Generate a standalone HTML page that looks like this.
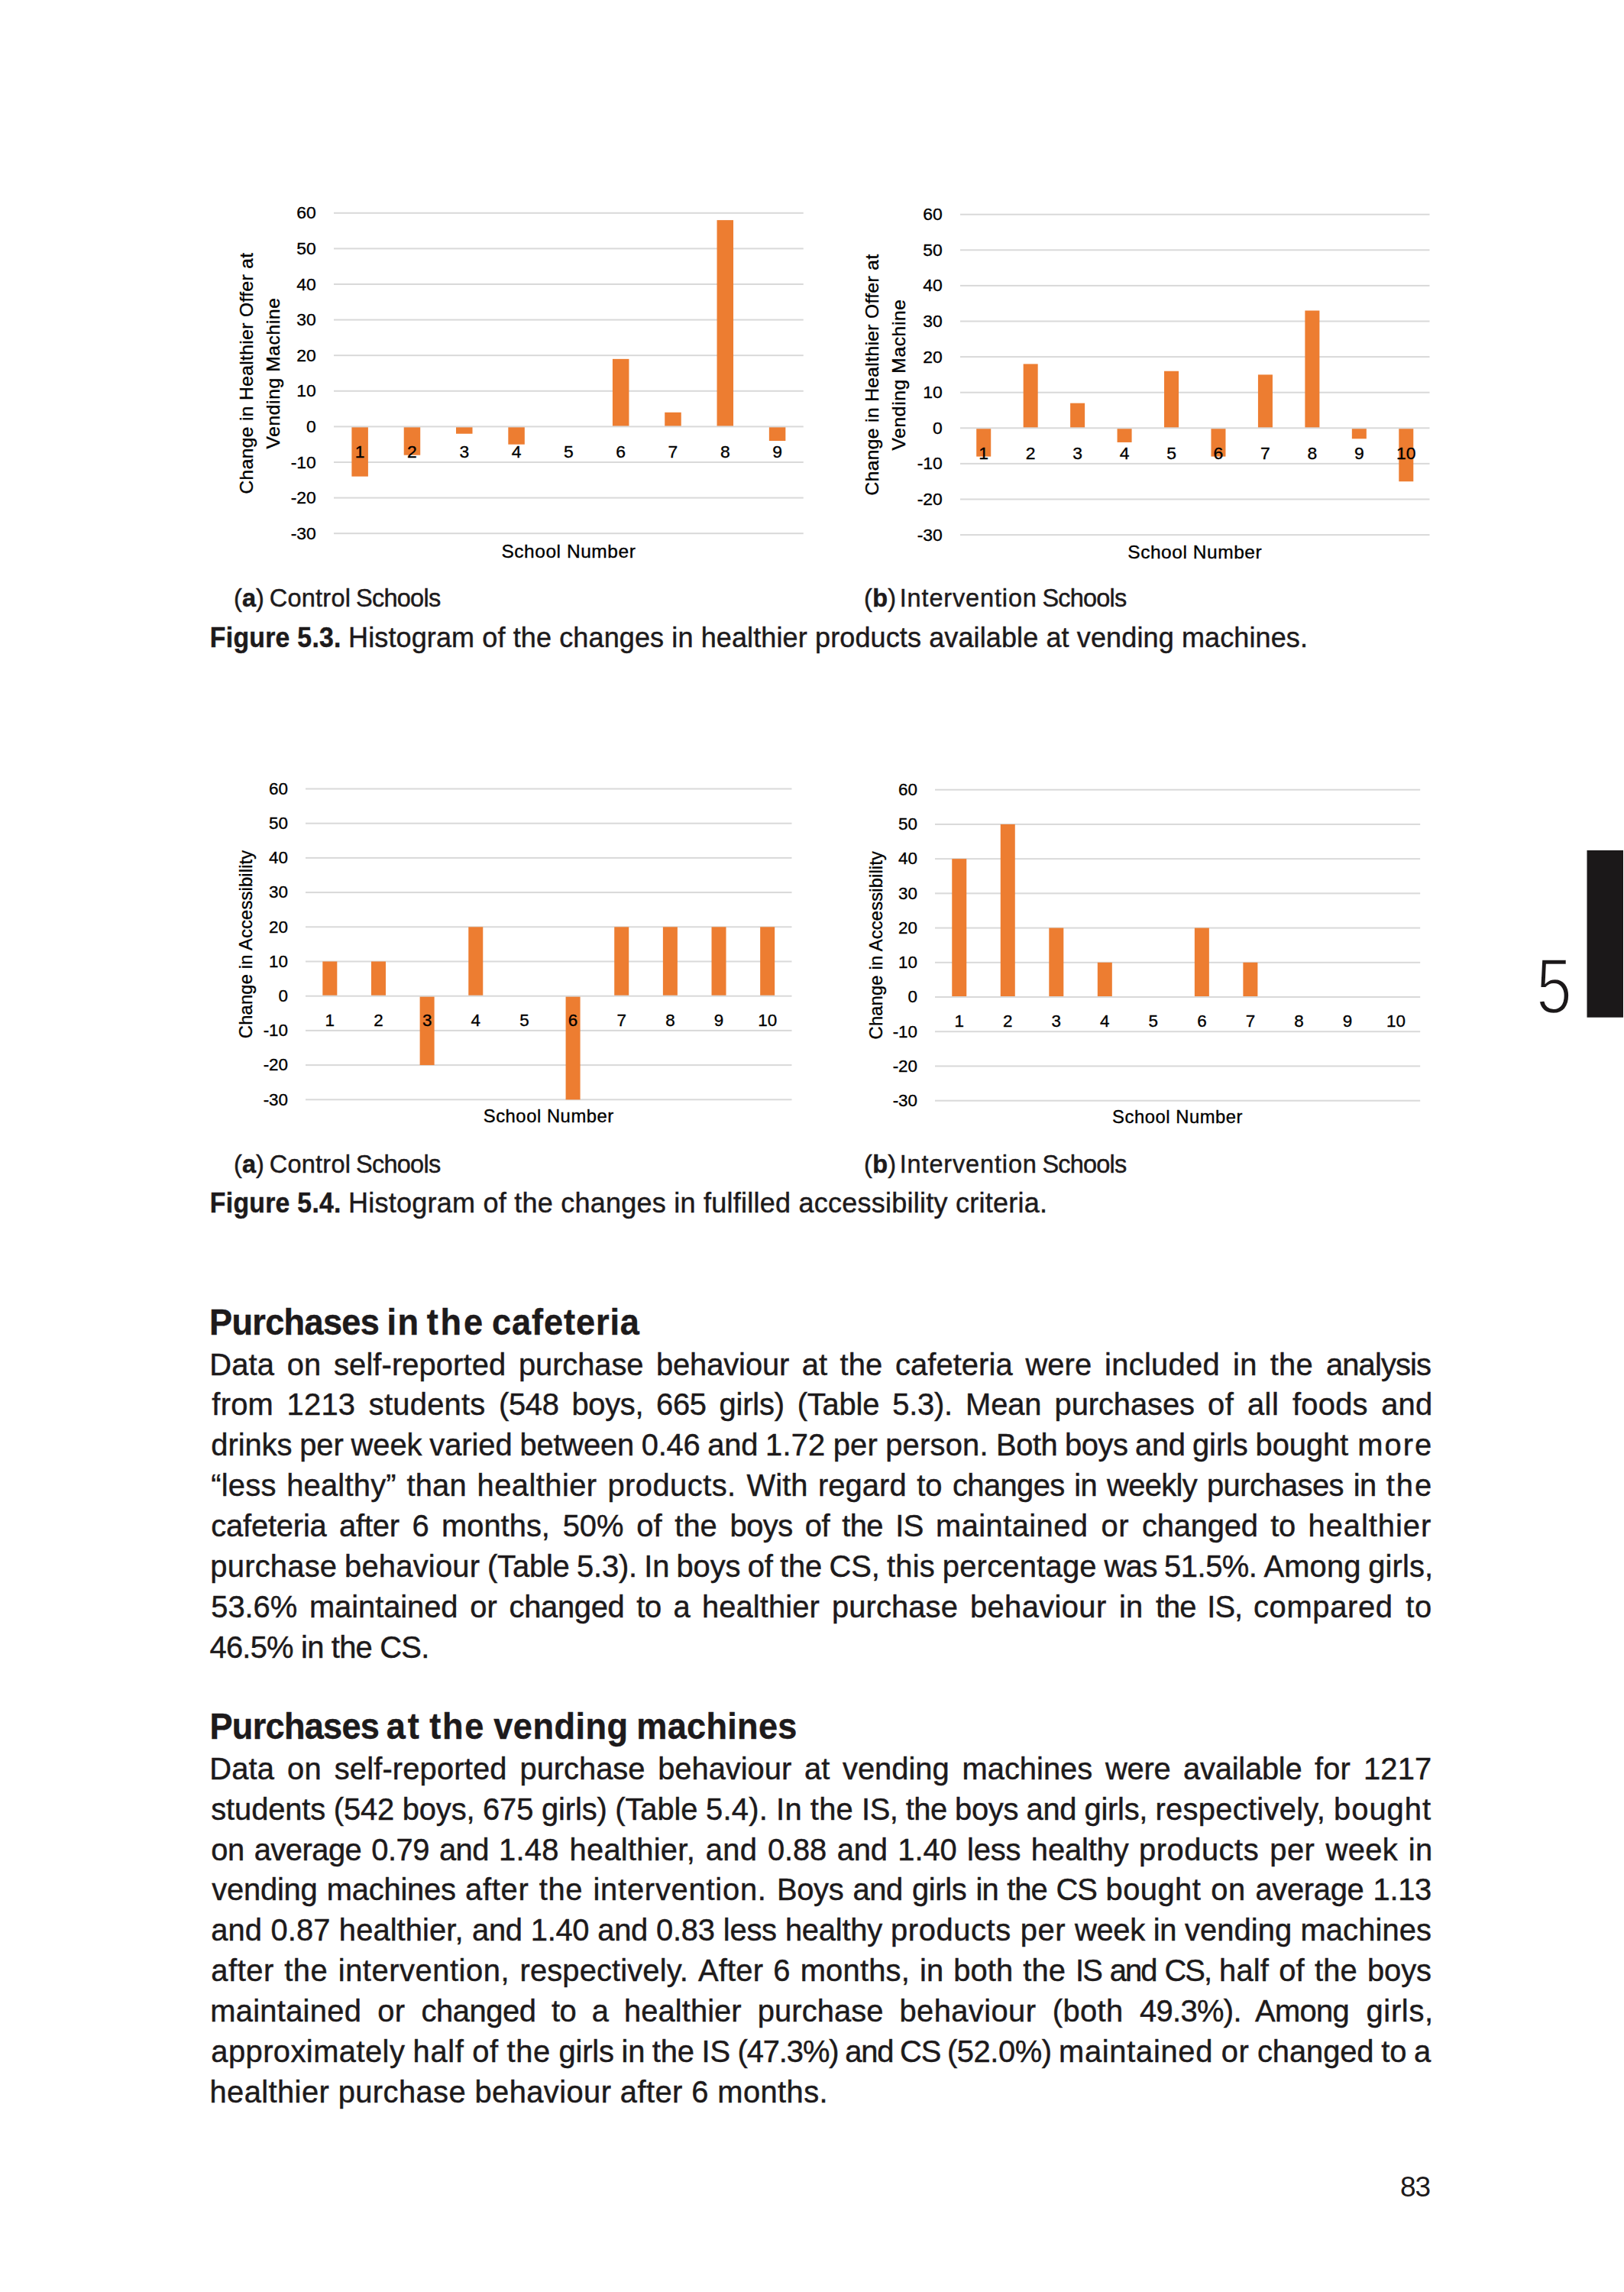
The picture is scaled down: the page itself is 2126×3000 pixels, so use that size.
<!DOCTYPE html>
<html lang="en"><head><meta charset="utf-8"><title>Page 83</title>
<style>
html,body{margin:0;padding:0;background:#fff}
body{width:2126px;height:3000px;overflow:hidden}
svg{display:block;font-family:'Liberation Sans', sans-serif;fill:#1d1a1b;stroke:#1d1a1b;stroke-width:0.45px}
</style></head><body>
<svg width="2126" height="3000" viewBox="0 0 2126 3000">
<!-- Figure 5.3 -->
<g fill="#000" stroke="#000" stroke-width="0.35"><rect x="437.00" y="277.80" width="614.75" height="2" fill="#d9d9d9" stroke="none"/>
<rect x="437.00" y="324.40" width="614.75" height="2" fill="#d9d9d9" stroke="none"/>
<rect x="437.00" y="371.00" width="614.75" height="2" fill="#d9d9d9" stroke="none"/>
<rect x="437.00" y="417.60" width="614.75" height="2" fill="#d9d9d9" stroke="none"/>
<rect x="437.00" y="464.20" width="614.75" height="2" fill="#d9d9d9" stroke="none"/>
<rect x="437.00" y="510.80" width="614.75" height="2" fill="#d9d9d9" stroke="none"/>
<rect x="437.00" y="604.00" width="614.75" height="2" fill="#d9d9d9" stroke="none"/>
<rect x="437.00" y="650.60" width="614.75" height="2" fill="#d9d9d9" stroke="none"/>
<rect x="437.00" y="697.20" width="614.75" height="2" fill="#d9d9d9" stroke="none"/>
<rect x="460.40" y="558.40" width="21.50" height="65.24" fill="#ed7d31" stroke="none"/>
<rect x="528.71" y="558.40" width="21.50" height="37.28" fill="#ed7d31" stroke="none"/>
<rect x="597.01" y="558.40" width="21.50" height="9.32" fill="#ed7d31" stroke="none"/>
<rect x="665.32" y="558.40" width="21.50" height="23.30" fill="#ed7d31" stroke="none"/>
<rect x="801.93" y="469.86" width="21.50" height="88.54" fill="#ed7d31" stroke="none"/>
<rect x="870.24" y="539.76" width="21.50" height="18.64" fill="#ed7d31" stroke="none"/>
<rect x="938.54" y="288.12" width="21.50" height="270.28" fill="#ed7d31" stroke="none"/>
<rect x="1006.85" y="558.40" width="21.50" height="18.64" fill="#ed7d31" stroke="none"/>
<rect x="437.00" y="557.40" width="614.75" height="2" fill="#d9d9d9" stroke="none"/>
<text x="413.8" y="286.30" font-size="22.9" text-anchor="end">60</text>
<text x="413.8" y="332.90" font-size="22.9" text-anchor="end">50</text>
<text x="413.8" y="379.50" font-size="22.9" text-anchor="end">40</text>
<text x="413.8" y="426.10" font-size="22.9" text-anchor="end">30</text>
<text x="413.8" y="472.70" font-size="22.9" text-anchor="end">20</text>
<text x="413.8" y="519.30" font-size="22.9" text-anchor="end">10</text>
<text x="413.8" y="565.90" font-size="22.9" text-anchor="end">0</text>
<text x="413.8" y="612.50" font-size="22.9" text-anchor="end">-10</text>
<text x="413.8" y="659.10" font-size="22.9" text-anchor="end">-20</text>
<text x="413.8" y="705.70" font-size="22.9" text-anchor="end">-30</text>
<text x="471.15" y="598.80" font-size="22.9" text-anchor="middle">1</text>
<text x="539.46" y="598.80" font-size="22.9" text-anchor="middle">2</text>
<text x="607.76" y="598.80" font-size="22.9" text-anchor="middle">3</text>
<text x="676.07" y="598.80" font-size="22.9" text-anchor="middle">4</text>
<text x="744.38" y="598.80" font-size="22.9" text-anchor="middle">5</text>
<text x="812.68" y="598.80" font-size="22.9" text-anchor="middle">6</text>
<text x="880.99" y="598.80" font-size="22.9" text-anchor="middle">7</text>
<text x="949.29" y="598.80" font-size="22.9" text-anchor="middle">8</text>
<text x="1017.60" y="598.80" font-size="22.9" text-anchor="middle">9</text>
<text x="744.38" y="730.00" font-size="24.5" text-anchor="middle" letter-spacing="0.549">School Number</text>
<text transform="translate(330.80,488.50) rotate(-90)" font-size="24.5" text-anchor="middle" letter-spacing="0.406">Change in Healthier Offer at</text>
<text transform="translate(365.70,488.50) rotate(-90)" font-size="24.5" text-anchor="middle" letter-spacing="0.668">Vending Machine</text></g>
<g fill="#000" stroke="#000" stroke-width="0.35"><rect x="1257.00" y="279.70" width="614.50" height="2" fill="#d9d9d9" stroke="none"/>
<rect x="1257.00" y="326.30" width="614.50" height="2" fill="#d9d9d9" stroke="none"/>
<rect x="1257.00" y="372.90" width="614.50" height="2" fill="#d9d9d9" stroke="none"/>
<rect x="1257.00" y="419.50" width="614.50" height="2" fill="#d9d9d9" stroke="none"/>
<rect x="1257.00" y="466.10" width="614.50" height="2" fill="#d9d9d9" stroke="none"/>
<rect x="1257.00" y="512.70" width="614.50" height="2" fill="#d9d9d9" stroke="none"/>
<rect x="1257.00" y="605.90" width="614.50" height="2" fill="#d9d9d9" stroke="none"/>
<rect x="1257.00" y="652.50" width="614.50" height="2" fill="#d9d9d9" stroke="none"/>
<rect x="1257.00" y="699.10" width="614.50" height="2" fill="#d9d9d9" stroke="none"/>
<rect x="1278.22" y="560.30" width="19.00" height="37.28" fill="#ed7d31" stroke="none"/>
<rect x="1339.67" y="476.42" width="19.00" height="83.88" fill="#ed7d31" stroke="none"/>
<rect x="1401.12" y="527.68" width="19.00" height="32.62" fill="#ed7d31" stroke="none"/>
<rect x="1462.58" y="560.30" width="19.00" height="18.64" fill="#ed7d31" stroke="none"/>
<rect x="1524.03" y="485.74" width="19.00" height="74.56" fill="#ed7d31" stroke="none"/>
<rect x="1585.47" y="560.30" width="19.00" height="37.28" fill="#ed7d31" stroke="none"/>
<rect x="1646.92" y="490.40" width="19.00" height="69.90" fill="#ed7d31" stroke="none"/>
<rect x="1708.38" y="406.52" width="19.00" height="153.78" fill="#ed7d31" stroke="none"/>
<rect x="1769.83" y="560.30" width="19.00" height="13.98" fill="#ed7d31" stroke="none"/>
<rect x="1831.28" y="560.30" width="19.00" height="69.90" fill="#ed7d31" stroke="none"/>
<rect x="1257.00" y="559.30" width="614.50" height="2" fill="#d9d9d9" stroke="none"/>
<text x="1233.8" y="288.20" font-size="22.9" text-anchor="end">60</text>
<text x="1233.8" y="334.80" font-size="22.9" text-anchor="end">50</text>
<text x="1233.8" y="381.40" font-size="22.9" text-anchor="end">40</text>
<text x="1233.8" y="428.00" font-size="22.9" text-anchor="end">30</text>
<text x="1233.8" y="474.60" font-size="22.9" text-anchor="end">20</text>
<text x="1233.8" y="521.20" font-size="22.9" text-anchor="end">10</text>
<text x="1233.8" y="567.80" font-size="22.9" text-anchor="end">0</text>
<text x="1233.8" y="614.40" font-size="22.9" text-anchor="end">-10</text>
<text x="1233.8" y="661.00" font-size="22.9" text-anchor="end">-20</text>
<text x="1233.8" y="707.60" font-size="22.9" text-anchor="end">-30</text>
<text x="1287.72" y="601.20" font-size="22.9" text-anchor="middle">1</text>
<text x="1349.17" y="601.20" font-size="22.9" text-anchor="middle">2</text>
<text x="1410.62" y="601.20" font-size="22.9" text-anchor="middle">3</text>
<text x="1472.08" y="601.20" font-size="22.9" text-anchor="middle">4</text>
<text x="1533.53" y="601.20" font-size="22.9" text-anchor="middle">5</text>
<text x="1594.97" y="601.20" font-size="22.9" text-anchor="middle">6</text>
<text x="1656.42" y="601.20" font-size="22.9" text-anchor="middle">7</text>
<text x="1717.88" y="601.20" font-size="22.9" text-anchor="middle">8</text>
<text x="1779.33" y="601.20" font-size="22.9" text-anchor="middle">9</text>
<text x="1840.78" y="601.20" font-size="22.9" text-anchor="middle">10</text>
<text x="1564.25" y="730.70" font-size="24.5" text-anchor="middle" letter-spacing="0.549">School Number</text>
<text transform="translate(1150.40,490.40) rotate(-90)" font-size="24.5" text-anchor="middle" letter-spacing="0.406">Change in Healthier Offer at</text>
<text transform="translate(1185.20,490.40) rotate(-90)" font-size="24.5" text-anchor="middle" letter-spacing="0.668">Vending Machine</text></g>
<text x="306.05" y="794.00" font-size="32.5"  letter-spacing="0.022" xml:space="preserve">(<tspan font-weight="bold">a</tspan>)</text>
<text x="352.77" y="794.00" font-size="32.5"  letter-spacing="0.238" xml:space="preserve">Control</text>
<text x="466.07" y="794.00" font-size="32.5"  letter-spacing="-0.754" xml:space="preserve">Schools</text>
<text x="1131.05" y="794.00" font-size="32.5"  letter-spacing="0.261" xml:space="preserve">(<tspan font-weight="bold">b</tspan>)</text>
<text x="1177.70" y="794.00" font-size="32.5"  letter-spacing="0.855" xml:space="preserve">Intervention</text>
<text x="1364.38" y="794.00" font-size="32.5"  letter-spacing="-0.782" xml:space="preserve">Schools</text>
<text transform="translate(274.84,846.90) scale(0.93,1)" font-size="36.3" font-weight="bold" letter-spacing="0.302" xml:space="preserve">Figure 5.3.</text>
<text x="456.10" y="846.90" font-size="36"  letter-spacing="0.120" xml:space="preserve">Histogram of the changes in healthier products available at vending machines.</text>
<!-- Figure 5.4 -->
<g fill="#000" stroke="#000" stroke-width="0.35"><rect x="400.00" y="1031.50" width="636.50" height="2" fill="#d9d9d9" stroke="none"/>
<rect x="400.00" y="1076.70" width="636.50" height="2" fill="#d9d9d9" stroke="none"/>
<rect x="400.00" y="1121.90" width="636.50" height="2" fill="#d9d9d9" stroke="none"/>
<rect x="400.00" y="1167.10" width="636.50" height="2" fill="#d9d9d9" stroke="none"/>
<rect x="400.00" y="1212.30" width="636.50" height="2" fill="#d9d9d9" stroke="none"/>
<rect x="400.00" y="1257.50" width="636.50" height="2" fill="#d9d9d9" stroke="none"/>
<rect x="400.00" y="1347.90" width="636.50" height="2" fill="#d9d9d9" stroke="none"/>
<rect x="400.00" y="1393.10" width="636.50" height="2" fill="#d9d9d9" stroke="none"/>
<rect x="400.00" y="1438.30" width="636.50" height="2" fill="#d9d9d9" stroke="none"/>
<rect x="422.32" y="1258.50" width="19.00" height="45.20" fill="#ed7d31" stroke="none"/>
<rect x="485.98" y="1258.50" width="19.00" height="45.20" fill="#ed7d31" stroke="none"/>
<rect x="549.62" y="1303.70" width="19.00" height="90.40" fill="#ed7d31" stroke="none"/>
<rect x="613.27" y="1213.30" width="19.00" height="90.40" fill="#ed7d31" stroke="none"/>
<rect x="740.58" y="1303.70" width="19.00" height="135.60" fill="#ed7d31" stroke="none"/>
<rect x="804.22" y="1213.30" width="19.00" height="90.40" fill="#ed7d31" stroke="none"/>
<rect x="867.88" y="1213.30" width="19.00" height="90.40" fill="#ed7d31" stroke="none"/>
<rect x="931.52" y="1213.30" width="19.00" height="90.40" fill="#ed7d31" stroke="none"/>
<rect x="995.17" y="1213.30" width="19.00" height="90.40" fill="#ed7d31" stroke="none"/>
<rect x="400.00" y="1302.70" width="636.50" height="2" fill="#d9d9d9" stroke="none"/>
<text x="377.0" y="1039.80" font-size="22.4" text-anchor="end">60</text>
<text x="377.0" y="1085.00" font-size="22.4" text-anchor="end">50</text>
<text x="377.0" y="1130.20" font-size="22.4" text-anchor="end">40</text>
<text x="377.0" y="1175.40" font-size="22.4" text-anchor="end">30</text>
<text x="377.0" y="1220.60" font-size="22.4" text-anchor="end">20</text>
<text x="377.0" y="1265.80" font-size="22.4" text-anchor="end">10</text>
<text x="377.0" y="1311.00" font-size="22.4" text-anchor="end">0</text>
<text x="377.0" y="1356.20" font-size="22.4" text-anchor="end">-10</text>
<text x="377.0" y="1401.40" font-size="22.4" text-anchor="end">-20</text>
<text x="377.0" y="1446.60" font-size="22.4" text-anchor="end">-30</text>
<text x="431.82" y="1343.30" font-size="22.4" text-anchor="middle">1</text>
<text x="495.48" y="1343.30" font-size="22.4" text-anchor="middle">2</text>
<text x="559.12" y="1343.30" font-size="22.4" text-anchor="middle">3</text>
<text x="622.77" y="1343.30" font-size="22.4" text-anchor="middle">4</text>
<text x="686.42" y="1343.30" font-size="22.4" text-anchor="middle">5</text>
<text x="750.08" y="1343.30" font-size="22.4" text-anchor="middle">6</text>
<text x="813.72" y="1343.30" font-size="22.4" text-anchor="middle">7</text>
<text x="877.38" y="1343.30" font-size="22.4" text-anchor="middle">8</text>
<text x="941.02" y="1343.30" font-size="22.4" text-anchor="middle">9</text>
<text x="1004.67" y="1343.30" font-size="22.4" text-anchor="middle">10</text>
<text x="718.25" y="1469.00" font-size="23.8" text-anchor="middle" letter-spacing="0.537">School Number</text>
<text transform="translate(330.00,1235.90) rotate(-90)" font-size="23.8" text-anchor="middle" letter-spacing="0.135">Change in Accessibility</text></g>
<g fill="#000" stroke="#000" stroke-width="0.35"><rect x="1224.00" y="1032.70" width="635.20" height="2" fill="#d9d9d9" stroke="none"/>
<rect x="1224.00" y="1077.92" width="635.20" height="2" fill="#d9d9d9" stroke="none"/>
<rect x="1224.00" y="1123.14" width="635.20" height="2" fill="#d9d9d9" stroke="none"/>
<rect x="1224.00" y="1168.36" width="635.20" height="2" fill="#d9d9d9" stroke="none"/>
<rect x="1224.00" y="1213.58" width="635.20" height="2" fill="#d9d9d9" stroke="none"/>
<rect x="1224.00" y="1258.80" width="635.20" height="2" fill="#d9d9d9" stroke="none"/>
<rect x="1224.00" y="1349.24" width="635.20" height="2" fill="#d9d9d9" stroke="none"/>
<rect x="1224.00" y="1394.46" width="635.20" height="2" fill="#d9d9d9" stroke="none"/>
<rect x="1224.00" y="1439.68" width="635.20" height="2" fill="#d9d9d9" stroke="none"/>
<rect x="1246.26" y="1124.14" width="19.00" height="180.88" fill="#ed7d31" stroke="none"/>
<rect x="1309.78" y="1078.92" width="19.00" height="226.10" fill="#ed7d31" stroke="none"/>
<rect x="1373.30" y="1214.58" width="19.00" height="90.44" fill="#ed7d31" stroke="none"/>
<rect x="1436.82" y="1259.80" width="19.00" height="45.22" fill="#ed7d31" stroke="none"/>
<rect x="1563.86" y="1214.58" width="19.00" height="90.44" fill="#ed7d31" stroke="none"/>
<rect x="1627.38" y="1259.80" width="19.00" height="45.22" fill="#ed7d31" stroke="none"/>
<rect x="1224.00" y="1304.02" width="635.20" height="2" fill="#d9d9d9" stroke="none"/>
<text x="1201.0" y="1041.00" font-size="22.4" text-anchor="end">60</text>
<text x="1201.0" y="1086.22" font-size="22.4" text-anchor="end">50</text>
<text x="1201.0" y="1131.44" font-size="22.4" text-anchor="end">40</text>
<text x="1201.0" y="1176.66" font-size="22.4" text-anchor="end">30</text>
<text x="1201.0" y="1221.88" font-size="22.4" text-anchor="end">20</text>
<text x="1201.0" y="1267.10" font-size="22.4" text-anchor="end">10</text>
<text x="1201.0" y="1312.32" font-size="22.4" text-anchor="end">0</text>
<text x="1201.0" y="1357.54" font-size="22.4" text-anchor="end">-10</text>
<text x="1201.0" y="1402.76" font-size="22.4" text-anchor="end">-20</text>
<text x="1201.0" y="1447.98" font-size="22.4" text-anchor="end">-30</text>
<text x="1255.76" y="1344.02" font-size="22.4" text-anchor="middle">1</text>
<text x="1319.28" y="1344.02" font-size="22.4" text-anchor="middle">2</text>
<text x="1382.80" y="1344.02" font-size="22.4" text-anchor="middle">3</text>
<text x="1446.32" y="1344.02" font-size="22.4" text-anchor="middle">4</text>
<text x="1509.84" y="1344.02" font-size="22.4" text-anchor="middle">5</text>
<text x="1573.36" y="1344.02" font-size="22.4" text-anchor="middle">6</text>
<text x="1636.88" y="1344.02" font-size="22.4" text-anchor="middle">7</text>
<text x="1700.40" y="1344.02" font-size="22.4" text-anchor="middle">8</text>
<text x="1763.92" y="1344.02" font-size="22.4" text-anchor="middle">9</text>
<text x="1827.44" y="1344.02" font-size="22.4" text-anchor="middle">10</text>
<text x="1541.60" y="1470.00" font-size="23.8" text-anchor="middle" letter-spacing="0.537">School Number</text>
<text transform="translate(1155.00,1237.19) rotate(-90)" font-size="23.8" text-anchor="middle" letter-spacing="0.135">Change in Accessibility</text></g>
<text x="306.05" y="1534.50" font-size="32.5"  letter-spacing="0.022" xml:space="preserve">(<tspan font-weight="bold">a</tspan>)</text>
<text x="352.77" y="1534.50" font-size="32.5"  letter-spacing="0.238" xml:space="preserve">Control</text>
<text x="466.07" y="1534.50" font-size="32.5"  letter-spacing="-0.754" xml:space="preserve">Schools</text>
<text x="1131.05" y="1534.50" font-size="32.5"  letter-spacing="0.261" xml:space="preserve">(<tspan font-weight="bold">b</tspan>)</text>
<text x="1177.70" y="1534.50" font-size="32.5"  letter-spacing="0.855" xml:space="preserve">Intervention</text>
<text x="1364.38" y="1534.50" font-size="32.5"  letter-spacing="-0.782" xml:space="preserve">Schools</text>
<text transform="translate(274.84,1587.40) scale(0.93,1)" font-size="36.3" font-weight="bold" letter-spacing="0.302" xml:space="preserve">Figure 5.4.</text>
<text x="456.10" y="1587.40" font-size="36"  letter-spacing="0.241" xml:space="preserve">Histogram of the changes in fulfilled accessibility criteria.</text>
<!-- Purchases in the cafeteria -->
<text transform="translate(274.09,1746.60) scale(0.93,1)" font-size="48.5" font-weight="bold" letter-spacing="-0.736" xml:space="preserve">Purchases</text>
<text transform="translate(506.39,1746.60) scale(0.93,1)" font-size="48.5" font-weight="bold" letter-spacing="1.624" xml:space="preserve">in</text>
<text transform="translate(558.69,1746.60) scale(0.93,1)" font-size="48.5" font-weight="bold" letter-spacing="3.031" xml:space="preserve">the</text>
<text transform="translate(643.99,1746.60) scale(0.93,1)" font-size="48.5" font-weight="bold" letter-spacing="0.997" xml:space="preserve">cafeteria</text>
<text y="1799.52" font-size="39.9" word-spacing="5.615" xml:space="preserve"><tspan x="274.30" letter-spacing="0.093">Data on self-reported </tspan><tspan x="679.00" letter-spacing="-0.098">purchase behaviour at </tspan><tspan x="1099.50" letter-spacing="0.079">the cafeteria were </tspan><tspan x="1446.00" letter-spacing="0.301">included in the </tspan><tspan x="1736.00" letter-spacing="-0.882">analysis</tspan></text>
<text y="1852.44" font-size="39.9" word-spacing="6.116" xml:space="preserve"><tspan x="277.30" letter-spacing="0.252">from 1213 students </tspan><tspan x="653.00" letter-spacing="-0.322">(548 boys, 665 </tspan><tspan x="941.50" letter-spacing="-0.199">girls) (Table 5.3). </tspan><tspan x="1264.00" letter-spacing="-0.082">Mean purchases </tspan><tspan x="1581.00" letter-spacing="0.489">of all </tspan><tspan x="1692.00" letter-spacing="0.231">foods and</tspan></text>
<text y="1905.36" font-size="39.9" word-spacing="-1.097" xml:space="preserve"><tspan x="276.30" letter-spacing="-0.069">drinks per week varied </tspan><tspan x="680.50" letter-spacing="-0.204">between 0.46 and </tspan><tspan x="1002.00" letter-spacing="0.217">1.72 per person. </tspan><tspan x="1304.00" letter-spacing="-0.417">Both boys and </tspan><tspan x="1561.00" letter-spacing="-0.086">girls bought </tspan><tspan x="1777.30" letter-spacing="2.000">more</tspan></text>
<text y="1958.28" font-size="39.9" word-spacing="2.325" xml:space="preserve"><tspan x="276.30" letter-spacing="0.210">“less healthy” than </tspan><tspan x="624.50" letter-spacing="0.454">healthier products. </tspan><tspan x="977.50" letter-spacing="0.061">With regard to </tspan><tspan x="1247.00" letter-spacing="-0.612">changes in weekly </tspan><tspan x="1580.00" letter-spacing="-0.570">purchases in </tspan><tspan x="1814.73" letter-spacing="2.000">the</tspan></text>
<text y="2011.20" font-size="39.9" word-spacing="5.643" xml:space="preserve"><tspan x="276.30" letter-spacing="-0.193">cafeteria after 6 </tspan><tspan x="578.00" letter-spacing="0.007">months, 50% of the </tspan><tspan x="955.50" letter-spacing="-0.538">boys of the IS </tspan><tspan x="1225.00" letter-spacing="0.424">maintained or </tspan><tspan x="1495.00" letter-spacing="-0.207">changed to </tspan><tspan x="1712.50" letter-spacing="0.971">healthier</tspan></text>
<text y="2064.12" font-size="39.9" word-spacing="-1.595" xml:space="preserve"><tspan x="275.30" letter-spacing="0.233">purchase behaviour </tspan><tspan x="638.00" letter-spacing="-0.169">(Table 5.3). In </tspan><tspan x="885.50" letter-spacing="-0.121">boys of the CS, </tspan><tspan x="1161.00" letter-spacing="0.240">this percentage </tspan><tspan x="1445.50" letter-spacing="-0.464">was 51.5%. </tspan><tspan x="1654.50" letter-spacing="0.135">Among girls,</tspan></text>
<text y="2117.04" font-size="39.9" word-spacing="4.871" xml:space="preserve"><tspan x="276.30" letter-spacing="-0.069">53.6% maintained or </tspan><tspan x="666.50" letter-spacing="-0.298">changed to a </tspan><tspan x="919.00" letter-spacing="0.104">healthier purchase </tspan><tspan x="1270.00" letter-spacing="0.372">behaviour in </tspan><tspan x="1513.00" letter-spacing="-1.017">the IS, </tspan><tspan x="1641.00" letter-spacing="0.658">compared to</tspan></text>
<text x="274.50" y="2169.96" font-size="39.9"  letter-spacing="-0.772" xml:space="preserve">46.5% in the CS.</text>
<!-- Purchases at the vending machines -->
<text transform="translate(274.49,2276.00) scale(0.93,1)" font-size="48.5" font-weight="bold" letter-spacing="-0.771" xml:space="preserve">Purchases</text>
<text transform="translate(505.79,2276.00) scale(0.93,1)" font-size="48.5" font-weight="bold" letter-spacing="3.122" xml:space="preserve">at</text>
<text transform="translate(562.29,2276.00) scale(0.93,1)" font-size="48.5" font-weight="bold" letter-spacing="1.884" xml:space="preserve">the</text>
<text transform="translate(646.29,2276.00) scale(0.93,1)" font-size="48.5" font-weight="bold" letter-spacing="0.536" xml:space="preserve">vending</text>
<text transform="translate(833.29,2276.00) scale(0.93,1)" font-size="48.5" font-weight="bold" letter-spacing="0.313" xml:space="preserve">machines</text>
<text y="2328.72" font-size="39.9" word-spacing="5.742" xml:space="preserve"><tspan x="274.30" letter-spacing="0.144">Data on self-reported </tspan><tspan x="680.50" letter-spacing="-0.025">purchase behaviour at </tspan><tspan x="1103.00" letter-spacing="-0.006">vending machines </tspan><tspan x="1447.00" letter-spacing="-0.238">were available </tspan><tspan x="1721.00" letter-spacing="0.152">for 1217</tspan></text>
<text y="2381.64" font-size="39.9" word-spacing="-0.375" xml:space="preserve"><tspan x="276.30" letter-spacing="-0.120">students (542 boys, </tspan><tspan x="632.00" letter-spacing="-0.097">675 girls) (Table </tspan><tspan x="924.00" letter-spacing="0.256">5.4). In the </tspan><tspan x="1128.00" letter-spacing="-0.455">IS, the </tspan><tspan x="1250.00" letter-spacing="-0.292">boys and girls, </tspan><tspan x="1512.50" letter-spacing="0.290">respectively, </tspan><tspan x="1746.00" letter-spacing="1.015">bought</tspan></text>
<text y="2434.56" font-size="39.9" word-spacing="2.507" xml:space="preserve"><tspan x="276.30" letter-spacing="-0.519">on average 0.79 and </tspan><tspan x="653.00" letter-spacing="0.257">1.48 healthier, and </tspan><tspan x="1005.00" letter-spacing="-0.114">0.88 and 1.40 </tspan><tspan x="1266.00" letter-spacing="-0.135">less healthy </tspan><tspan x="1491.00" letter-spacing="0.513">products per </tspan><tspan x="1735.50" letter-spacing="0.321">week in</tspan></text>
<text y="2487.48" font-size="39.9" word-spacing="1.444" xml:space="preserve"><tspan x="277.30" letter-spacing="-0.224">vending machines </tspan><tspan x="609.00" letter-spacing="0.717">after the </tspan><tspan x="776.50" letter-spacing="0.761">intervention. </tspan><tspan x="1017.00" letter-spacing="-0.364">Boys and girls </tspan><tspan x="1277.50" letter-spacing="-0.950">in the CS </tspan><tspan x="1447.50" letter-spacing="0.457">bought on </tspan><tspan x="1643.50" letter-spacing="-0.331">average 1.13</tspan></text>
<text y="2540.40" font-size="39.9" word-spacing="0.225" xml:space="preserve"><tspan x="276.30" letter-spacing="0.084">and 0.87 healthier, </tspan><tspan x="618.00" letter-spacing="-0.283">and 1.40 and </tspan><tspan x="859.00" letter-spacing="-0.230">0.83 less healthy </tspan><tspan x="1166.00" letter-spacing="0.595">products per </tspan><tspan x="1407.00" letter-spacing="-0.348">week in </tspan><tspan x="1551.00" letter-spacing="0.057">vending </tspan><tspan x="1702.50" letter-spacing="0.103">machines</tspan></text>
<text y="2593.32" font-size="39.9" word-spacing="1.781" xml:space="preserve"><tspan x="276.30" letter-spacing="0.543">after the intervention, </tspan><tspan x="680.50" letter-spacing="0.136">respectively. </tspan><tspan x="914.00" letter-spacing="0.193">After 6 months, </tspan><tspan x="1204.00" letter-spacing="0.106">in both the </tspan><tspan x="1408.00" letter-spacing="-1.939">IS and CS, </tspan><tspan x="1596.00" letter-spacing="0.198">half of the </tspan><tspan x="1790.00" letter-spacing="-0.105">boys</tspan></text>
<text y="2646.24" font-size="39.9" word-spacing="9.855" xml:space="preserve"><tspan x="275.30" letter-spacing="0.265">maintained or </tspan><tspan x="551.50" letter-spacing="-0.448">changed to a </tspan><tspan x="817.00" letter-spacing="0.079">healthier purchase </tspan><tspan x="1177.50" letter-spacing="0.406">behaviour (both </tspan><tspan x="1492.00" letter-spacing="-0.660">49.3%). Among </tspan><tspan x="1788.50" letter-spacing="0.672">girls,</tspan></text>
<text y="2699.16" font-size="39.9" word-spacing="-1.286" xml:space="preserve"><tspan x="276.30" letter-spacing="0.434">approximately </tspan><tspan x="540.50" letter-spacing="0.714">half of the </tspan><tspan x="731.50" letter-spacing="-0.157">girls in the IS </tspan><tspan x="965.50" letter-spacing="-1.102">(47.3%) and CS </tspan><tspan x="1240.00" letter-spacing="-0.434">(52.0%) </tspan><tspan x="1386.00" letter-spacing="0.699">maintained or </tspan><tspan x="1646.00" letter-spacing="-0.083">changed to </tspan><tspan x="1851.00" letter-spacing="-1.000">a</tspan></text>
<text x="274.50" y="2752.08" font-size="39.9"  letter-spacing="0.406" xml:space="preserve">healthier purchase behaviour after 6 months.</text>
<!-- folio and chapter thumb tab -->
<text x="1872.2" y="2874.5" font-size="37" text-anchor="end" letter-spacing="-1" stroke="none">83</text>
<rect x="2077.5" y="1113" width="47.5" height="218.7" fill="#1b1819" stroke="none"/>
<text transform="translate(2034.6,1325.7) scale(0.82,1)" font-size="101.9" text-anchor="middle" fill="#1b1819" stroke="#fff" stroke-width="2.6">5</text>
</svg>
</body></html>
